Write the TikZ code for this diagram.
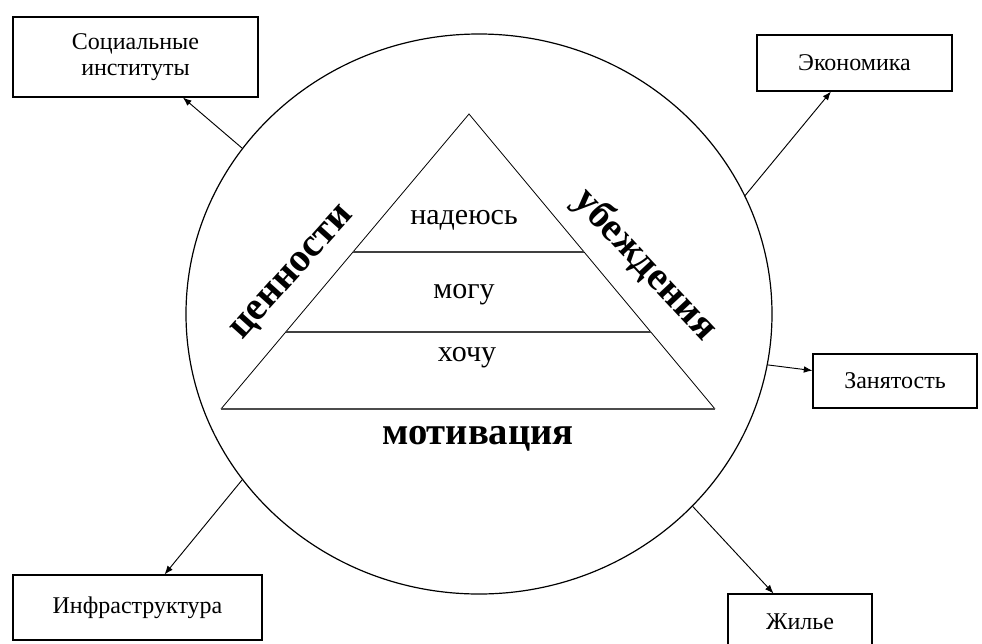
\documentclass[tikz,border=0pt]{standalone}
\usepackage{fontspec}
\setmainfont{Liberation Serif}
\usetikzlibrary{shapes.geometric,arrows.meta,calc}
\tikzset{every picture/.style={line width=0.75pt}}
\tikzset{
  outerbox/.style={draw, rectangle, line width=0.8pt, inner sep=0.75pt, align=center, font=\fontsize{18}{19.5}\selectfont},
  levellabel/.style={inner sep=0.75pt, font=\fontsize{22.5}{24}\selectfont},
  sidelabel/.style={inner sep=0.75pt, font=\bfseries\fontsize{30}{32}\selectfont},
  conn/.style={-{Latex[length=6.5pt,width=5pt]}, line width=0.7pt}
}

\begin{document}
\begin{tikzpicture}[x=0.75pt,y=0.75pt,yscale=-1,xscale=1]
\useasboundingbox (0,0) rectangle (982,643);

%Shape: Ellipse
\node[draw, ellipse, line width=0.9pt, inner sep=0pt, minimum width=439.5pt, minimum height=420pt] (sphere) at (479,314) {};

%Shape: Triangle
\coordinate (apex) at (469,114);
\coordinate (baseL) at (221,409);
\coordinate (baseR) at (715,409);
\draw [line width=0.6pt] (baseL) -- (apex) -- (baseR) ;
\draw [line width=1.3pt, draw=black!70] (baseL) -- (baseR) ;
%Straight Lines: levels
\foreach \lvl in {0.468,0.739}
  \draw [line width=1pt, draw=black!75] ($(apex)!\lvl!(baseL)$) -- ($(apex)!\lvl!(baseR)$) ;

% Text Node
\node [levellabel] (hope) at (464,220) {надеюсь};
% Text Node
\node [levellabel] (can) at (464,295) {могу};
% Text Node
\node [levellabel] (want) at (467,358) {хочу};
% Text Node
\node [sidelabel, rotate=48] (values) at (294,274) {ценности};
% Text Node
\node [sidelabel, rotate=-47] (beliefs) at (645,265) {убеждения};
% Text Node
\node [sidelabel, font=\bfseries\fontsize{29}{31}\selectfont] (motiv) at (478,439) {мотивация};

%Shape: Boxes
\node [outerbox, minimum width=183.75pt, minimum height=60pt] (social) at (135.5,57) {Социальные\\институты};
\node [outerbox, minimum width=146.25pt, minimum height=42pt] (economy) at (854.5,63) {Экономика};
\node [outerbox, minimum width=123pt, minimum height=40.5pt] (employ) at (895,381) {Занятость};
\node [outerbox, minimum width=186.75pt, minimum height=48.75pt] (infra) at (137.5,607.5) {Инфраструктура};
\node [outerbox, minimum width=108pt, minimum height=42pt] (housing) at (800,622) {Жилье};

%Straight Lines: arrows
\draw [conn] (sphere.145.5) -- (social) ;
\draw [conn] (sphere.24.6) -- (economy) ;
\draw [conn] (sphere.-10.6) -- (employ) ;
\draw [conn] (sphere.215.6) -- (infra) ;
\draw [conn] (sphere.-42.3) -- (housing) ;

\end{tikzpicture}
\end{document}
